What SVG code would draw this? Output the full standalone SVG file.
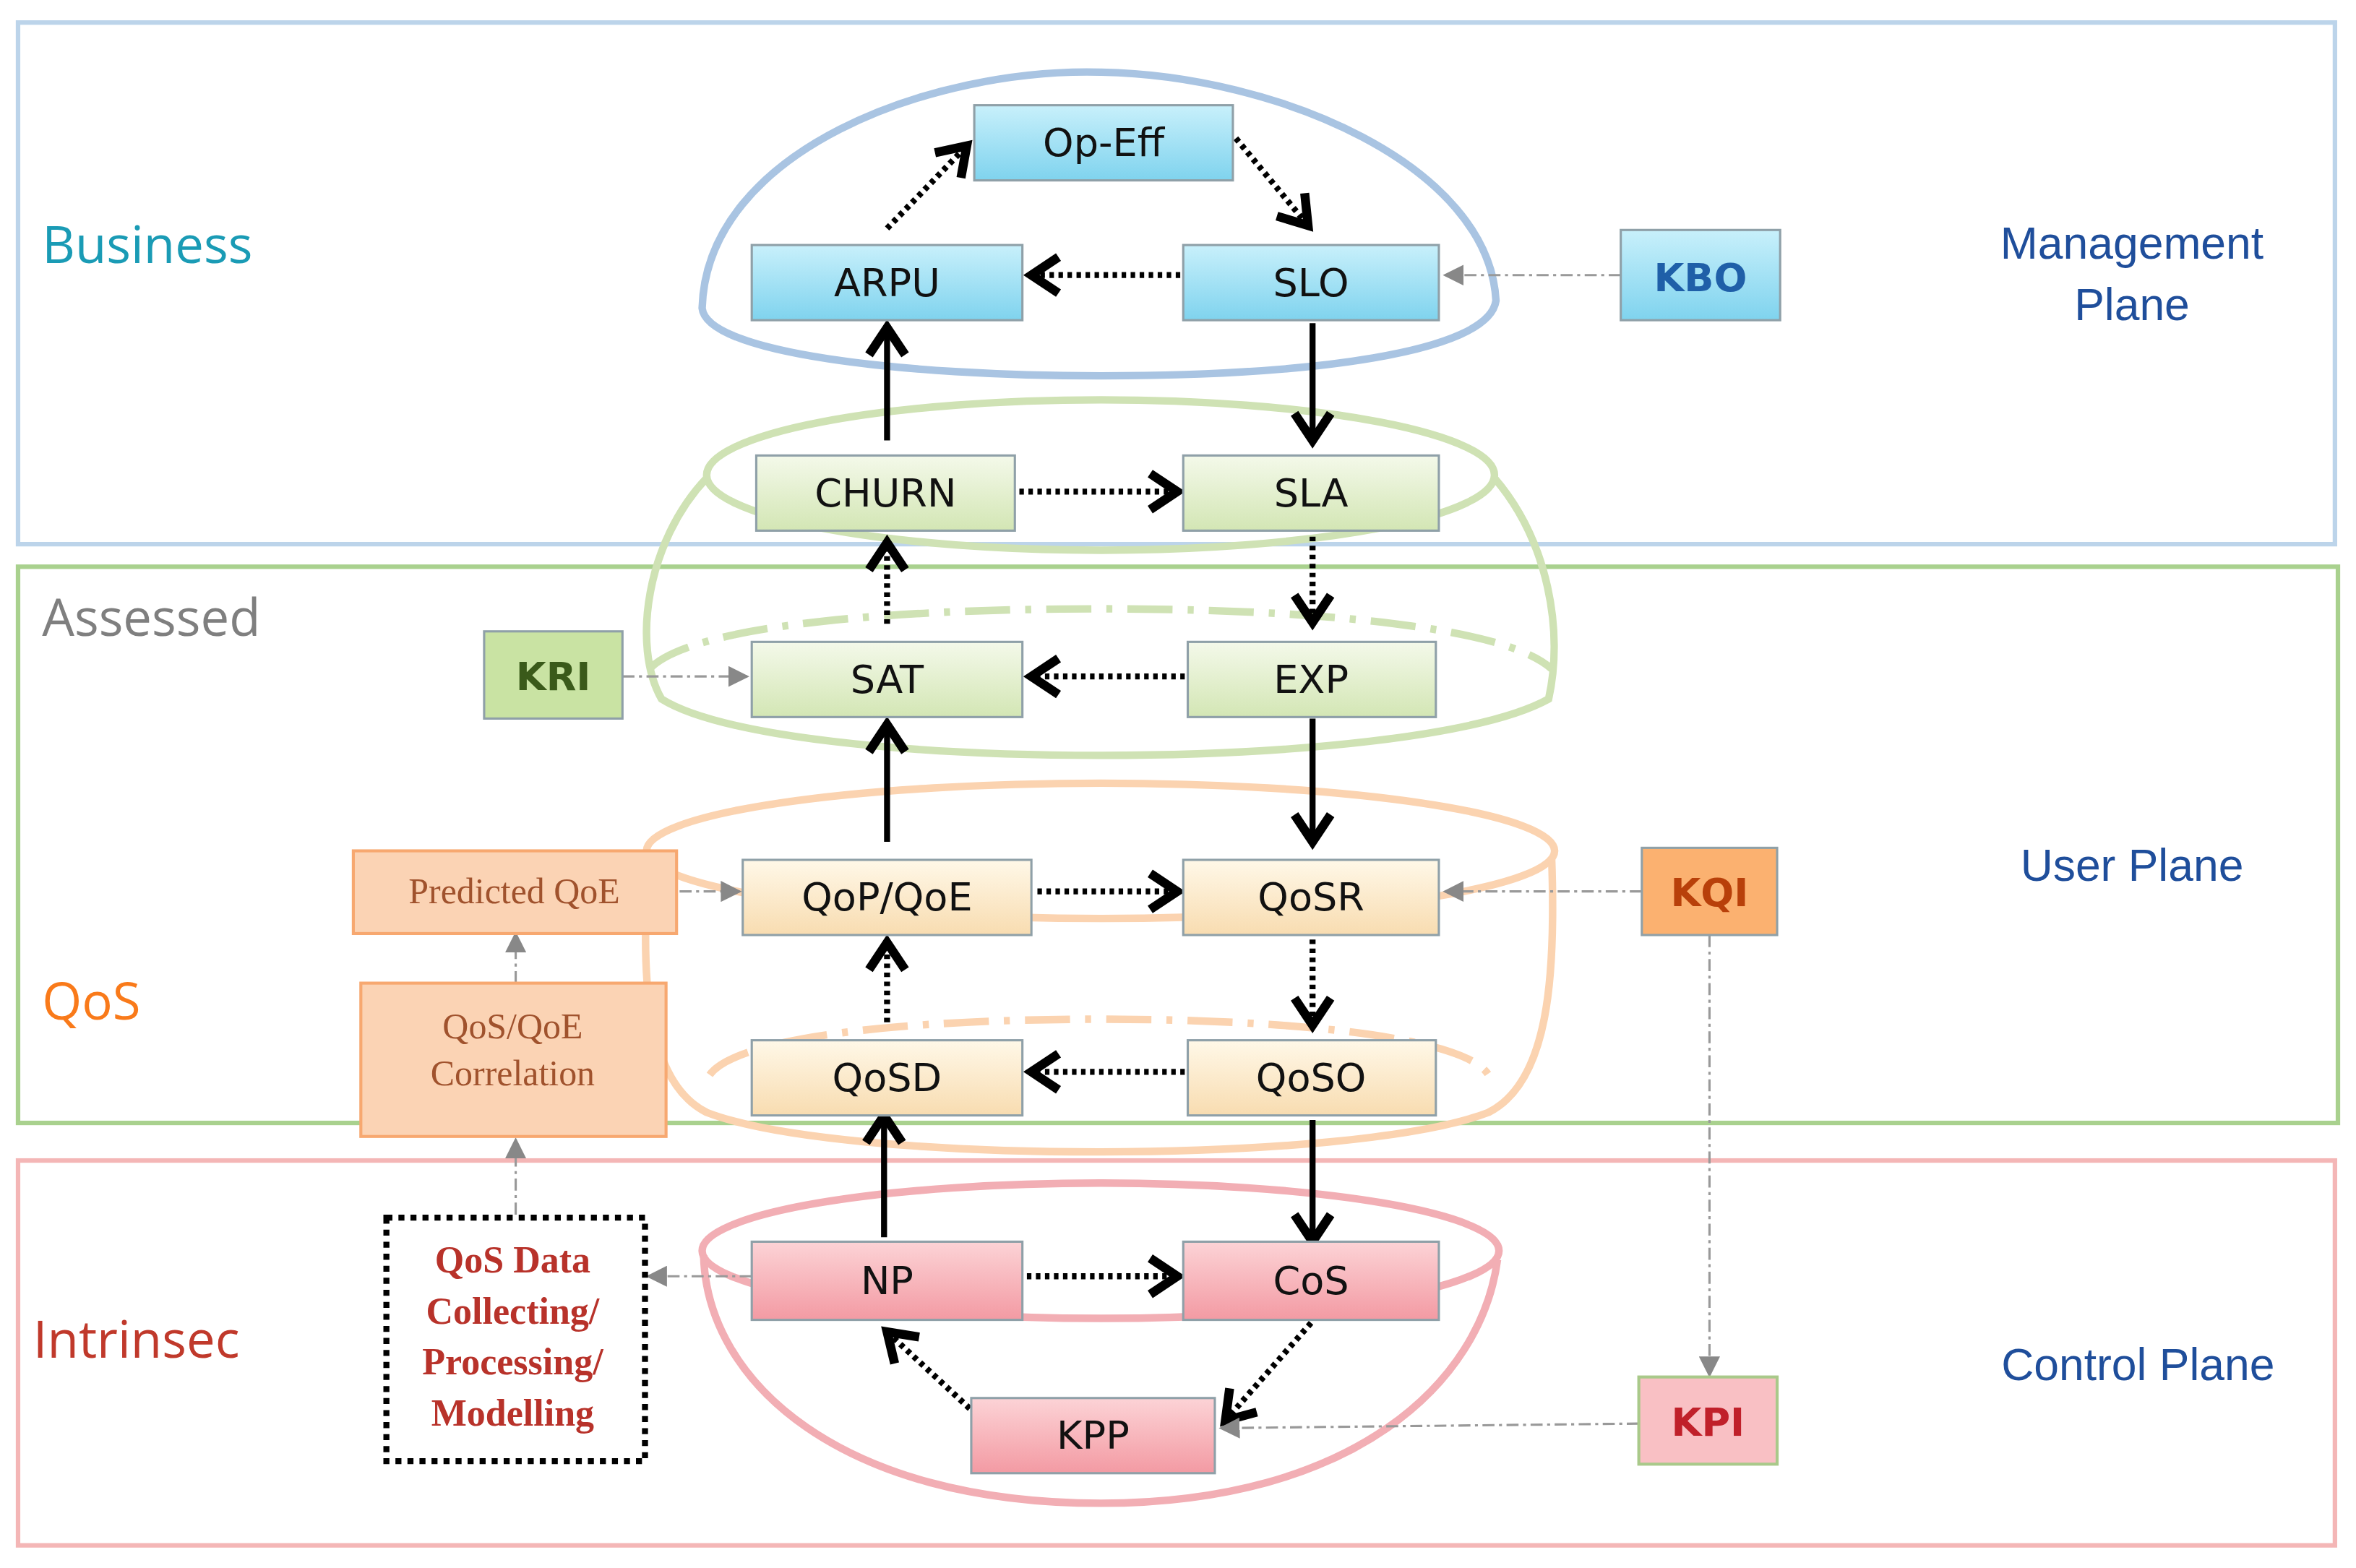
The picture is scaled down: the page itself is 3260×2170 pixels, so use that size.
<svg xmlns="http://www.w3.org/2000/svg" width="3260" height="2170" viewBox="0 0 3260 2170">
<defs>
<marker id="ch" markerUnits="userSpaceOnUse" markerWidth="30" markerHeight="30" viewBox="0 0 20 20" refX="16" refY="10" orient="auto"><polyline points="4,2 16,10 4,18" fill="none" stroke="#000" stroke-width="4"/></marker>
<marker id="gt" markerUnits="userSpaceOnUse" markerWidth="14" markerHeight="14" viewBox="0 0 10 10" refX="9" refY="5" orient="auto"><path d="M0,0 L10,5 L0,10 Z" fill="#888"/></marker>
<linearGradient id="gb" x1="0" y1="0" x2="0" y2="1"><stop offset="0" stop-color="#c8f0fb"/><stop offset="1" stop-color="#7fd3ee"/></linearGradient>
<linearGradient id="gg" x1="0" y1="0" x2="0" y2="1"><stop offset="0" stop-color="#f4f9ea"/><stop offset="1" stop-color="#d3e6b4"/></linearGradient>
<linearGradient id="go" x1="0" y1="0" x2="0" y2="1"><stop offset="0" stop-color="#fff8e8"/><stop offset="1" stop-color="#f8dcb0"/></linearGradient>
<linearGradient id="gp" x1="0" y1="0" x2="0" y2="1"><stop offset="0" stop-color="#fcd3d6"/><stop offset="1" stop-color="#f39aa3"/></linearGradient>
</defs>
<style>
.t{font-family:"DejaVu Sans",sans-serif;font-size:26px;fill:#111;text-anchor:middle;dominant-baseline:central}
.s{font-family:"Liberation Serif",serif;text-anchor:middle;dominant-baseline:central}
.lab{font-family:"Open Sans",sans-serif;font-size:34px}
.pl{font-family:"Liberation Sans",sans-serif;font-size:30px;fill:#1f4e9b;text-anchor:middle}
.b{stroke:#8fa0a8;stroke-width:1.5}
.sol{stroke:#000;stroke-width:4;fill:none;marker-end:url(#ch)}
.dot{stroke:#000;stroke-width:4;stroke-dasharray:3 3;fill:none;marker-end:url(#ch)}
.gr{stroke:#999;stroke-width:1.5;stroke-dasharray:8 3 2 3;fill:none;marker-end:url(#gt)}
.e{fill:none;stroke-width:5}
</style>
<rect width="3260" height="2170" fill="#fff"/>
<g transform="scale(2.0804)">
<g id="panels">
<rect x="12" y="15" width="1541" height="347" fill="none" stroke="#bcd4ea" stroke-width="3"/>
<rect x="12" y="377" width="1543" height="370" fill="none" stroke="#a9d18e" stroke-width="3"/>
<rect x="12" y="772" width="1541" height="256" fill="none" stroke="#f4b6b6" stroke-width="3"/>
<text class="lab" x="28" y="175" fill="#1a9bb5">Business</text>
<text class="lab" x="28" y="423" fill="#7f7f7f">Assessed</text>
<text class="lab" x="28" y="678" fill="#f97a1a">QoS</text>
<text class="lab" x="22" y="903" fill="#c0392b">Intrinsec</text>
<text class="pl" x="1418" y="172">Management</text>
<text class="pl" x="1418" y="213">Plane</text>
<text class="pl" x="1418" y="586">User Plane</text>
<text class="pl" x="1422" y="918">Control Plane</text>
</g>
<g id="ellipses">
<path class="e" stroke="#a9c4e2" d="M467,205 C470,100 620,45 732,48 C850,50 990,110 995,200 C990,235 870,250 732,250 C600,250 470,235 467,205 Z"/>
<ellipse class="e" stroke="#cfe2b4" cx="732" cy="316" rx="262" ry="50"/>
<path class="e" stroke="#cfe2b4" d="M470,318 C430,360 420,430 440,465 C520,515 940,515 1030,465 C1040,420 1030,360 994,318"/>
<path class="e" stroke="#cfe2b4" stroke-dasharray="30 10 4 10" d="M432,445 C460,415 600,405 732,405 C860,405 1000,415 1032,445"/>
<ellipse class="e" stroke="#fbd3b0" cx="732" cy="566" rx="302" ry="45"/>
<path class="e" stroke="#fbd3b0" d="M432,570 C425,650 430,720 470,740 C560,775 900,775 990,740 C1030,720 1035,650 1032,570"/>
<path class="e" stroke="#fbd3b0" stroke-dasharray="30 10 4 10" d="M472,715 C490,690 600,678 732,678 C860,678 975,690 990,715"/>
<ellipse class="e" stroke="#f2aeb4" cx="732" cy="832" rx="265" ry="45"/>
<path class="e" stroke="#f2aeb4" d="M468,835 C470,920 560,1000 732,1000 C900,1000 985,920 996,838"/>
</g>
<g id="connectors">
<line class="dot" x1="590" y1="152" x2="643" y2="97"/>
<line class="dot" x1="822" y1="92" x2="870" y2="150"/>
<line class="dot" x1="785" y1="183" x2="686" y2="183"/>
<line class="gr" x1="1078" y1="183" x2="961" y2="183"/>
<line class="sol" x1="873" y1="215" x2="873" y2="293"/>
<line class="sol" x1="590" y1="293" x2="590" y2="218"/>
<line class="dot" x1="678" y1="327" x2="783" y2="327"/>
<line class="dot" x1="873" y1="357" x2="873" y2="414"/>
<line class="dot" x1="590" y1="415" x2="590" y2="361"/>
<line class="dot" x1="788" y1="450" x2="686" y2="450"/>
<line class="gr" x1="414" y1="450" x2="497" y2="450"/>
<line class="sol" x1="873" y1="478" x2="873" y2="560"/>
<line class="sol" x1="590" y1="560" x2="590" y2="482"/>
<line class="dot" x1="690" y1="593" x2="783" y2="593"/>
<line class="gr" x1="452" y1="593" x2="492" y2="593"/>
<line class="gr" x1="1092" y1="593" x2="961" y2="593"/>
<line class="dot" x1="873" y1="625" x2="873" y2="682"/>
<line class="dot" x1="590" y1="680" x2="590" y2="627"/>
<line class="dot" x1="788" y1="713" x2="686" y2="713"/>
<line class="gr" x1="343" y1="654" x2="343" y2="621"/>
<line class="gr" x1="343" y1="808" x2="343" y2="758"/>
<line class="sol" x1="588" y1="823" x2="588" y2="742"/>
<line class="sol" x1="873" y1="745" x2="873" y2="826"/>
<line class="dot" x1="683" y1="849" x2="783" y2="849"/>
<line class="gr" x1="500" y1="849" x2="431" y2="849"/>
<line class="dot" x1="872" y1="880" x2="815" y2="945"/>
<line class="dot" x1="645" y1="937" x2="590" y2="886"/>
<line class="gr" x1="1090" y1="947" x2="812" y2="950"/>
<line class="gr" x1="1137" y1="622" x2="1137" y2="915"/>
</g>
<g id="n-opeff"><rect class="b" x="648" y="70" width="172" height="50" fill="url(#gb)"/><text class="t" x="734" y="95">Op-Eff</text></g>
<g id="n-arpu"><rect class="b" x="500" y="163" width="180" height="50" fill="url(#gb)"/><text class="t" x="590" y="188">ARPU</text></g>
<g id="n-slo"><rect class="b" x="787" y="163" width="170" height="50" fill="url(#gb)"/><text class="t" x="872" y="188">SLO</text></g>
<g id="n-kbo"><rect class="b" x="1078" y="153" width="106" height="60" fill="url(#gb)"/><text class="t" x="1131" y="185" font-weight="bold" fill="#1f5fa8" style="fill:#1f5fa8">KBO</text></g>
<g id="n-churn"><rect class="b" x="503" y="303" width="172" height="50" fill="url(#gg)"/><text class="t" x="589" y="328">CHURN</text></g>
<g id="n-sla"><rect class="b" x="787" y="303" width="170" height="50" fill="url(#gg)"/><text class="t" x="872" y="328">SLA</text></g>
<g id="n-sat"><rect class="b" x="500" y="427" width="180" height="50" fill="url(#gg)"/><text class="t" x="590" y="452">SAT</text></g>
<g id="n-exp"><rect class="b" x="790" y="427" width="165" height="50" fill="url(#gg)"/><text class="t" x="872" y="452">EXP</text></g>
<g id="n-kri"><rect class="b" x="322" y="420" width="92" height="58" fill="#c9e3a3"/><text class="t" x="368" y="450" font-weight="bold" style="fill:#3a5a1a">KRI</text></g>
<g id="n-pqoe"><rect x="235" y="566" width="215" height="55" fill="#fbd3b4" stroke="#f7a870" stroke-width="2"/><text class="s" x="342" y="593" font-size="24" fill="#a0522d">Predicted QoE</text></g>
<g id="n-qop"><rect class="b" x="494" y="572" width="192" height="50" fill="url(#go)"/><text class="t" x="590" y="597">QoP/QoE</text></g>
<g id="n-qosr"><rect class="b" x="787" y="572" width="170" height="50" fill="url(#go)"/><text class="t" x="872" y="597">QoSR</text></g>
<g id="n-kqi"><rect class="b" x="1092" y="564" width="90" height="58" fill="#fbb170"/><text class="t" x="1137" y="594" font-weight="bold" style="fill:#b8400a">KQI</text></g>
<g id="n-corr"><rect x="240" y="654" width="203" height="102" fill="#fbd3b4" stroke="#f7a870" stroke-width="2"/><text class="s" x="341" y="683" font-size="24" fill="#a0522d">QoS/QoE</text><text class="s" x="341" y="714" font-size="24" fill="#a0522d">Correlation</text></g>
<g id="n-qosd"><rect class="b" x="500" y="692" width="180" height="50" fill="url(#go)"/><text class="t" x="590" y="717">QoSD</text></g>
<g id="n-qoso"><rect class="b" x="790" y="692" width="165" height="50" fill="url(#go)"/><text class="t" x="872" y="717">QoSO</text></g>
<g id="n-data"><rect x="257" y="810" width="172" height="162" fill="#fff" stroke="#000" stroke-width="4" stroke-dasharray="4 4"/><g class="s" font-size="25" font-weight="bold" fill="#b8322a"><text x="341" y="838">QoS Data</text><text x="341" y="872">Collecting/</text><text x="341" y="906">Processing/</text><text x="341" y="940">Modelling</text></g></g>
<g id="n-np"><rect class="b" x="500" y="826" width="180" height="52" fill="url(#gp)"/><text class="t" x="590" y="852">NP</text></g>
<g id="n-cos"><rect class="b" x="787" y="826" width="170" height="52" fill="url(#gp)"/><text class="t" x="872" y="852">CoS</text></g>
<g id="n-kpp"><rect class="b" x="646" y="930" width="162" height="50" fill="url(#gp)"/><text class="t" x="727" y="955">KPP</text></g>
<g id="n-kpi"><rect x="1090" y="916" width="92" height="58" fill="#f9c0c4" stroke="#a9c98a" stroke-width="2"/><text class="t" x="1136" y="946" font-weight="bold" style="fill:#c0202a">KPI</text></g>
</g>
</svg>
